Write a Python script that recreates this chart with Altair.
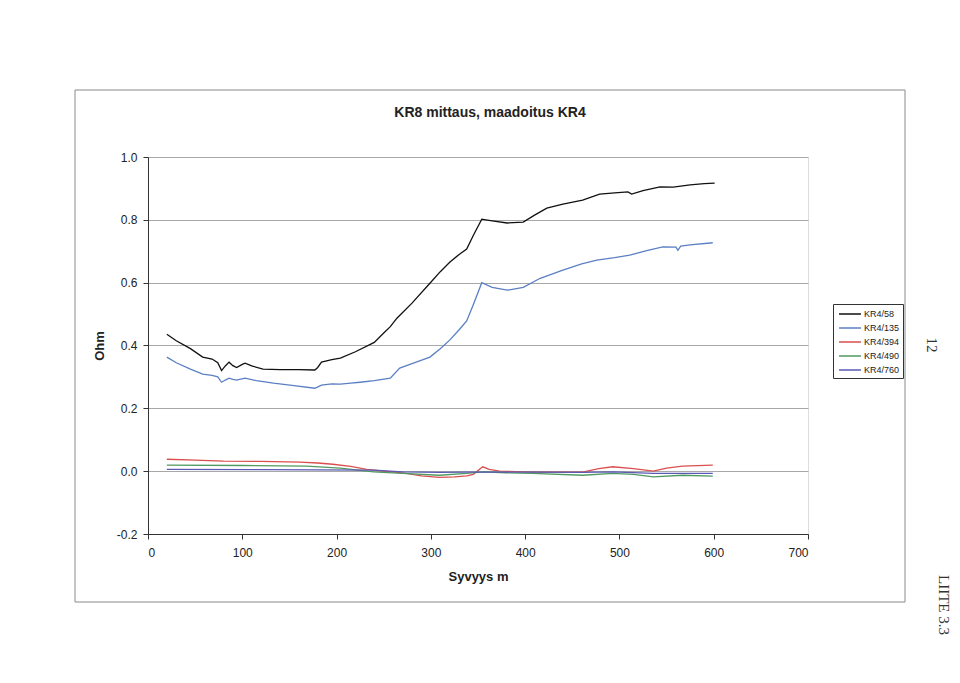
import altair as alt
import pandas as pd

# ---- data ----
series_names = ["KR4/58", "KR4/135", "KR4/394", "KR4/490", "KR4/760"]
series_colors = ["#111111", "#5b7fc4", "#d9504f", "#4f9a62", "#5a5ab4"]

kr58_x = [20, 30, 45, 58, 68, 74, 78, 82, 86, 90, 94, 100, 103, 110, 122, 140, 160, 177, 180, 184, 195, 204,
          220, 240, 250, 257, 264, 280, 299, 310, 320, 330, 338, 345, 354, 365, 381, 398, 410, 423, 440, 461,
          479, 495, 509, 513, 525, 543, 557, 575, 590, 601]
kr58_y = [0.436, 0.415, 0.390, 0.363, 0.357, 0.345, 0.320, 0.335, 0.347, 0.336, 0.330, 0.340, 0.344, 0.335,
          0.325, 0.323, 0.323, 0.322, 0.330, 0.347, 0.355, 0.360, 0.380, 0.410, 0.440, 0.460, 0.487, 0.535,
          0.598, 0.635, 0.665, 0.690, 0.707, 0.750, 0.802, 0.797, 0.790, 0.793, 0.815, 0.837, 0.850, 0.863,
          0.882, 0.886, 0.889, 0.882, 0.893, 0.905, 0.904, 0.911, 0.915, 0.917]

kr135_x = [20, 30, 45, 58, 68, 74, 78, 82, 86, 90, 94, 103, 115, 133, 155, 177, 184, 195, 204, 215, 225, 240,
           257, 267, 280, 299, 310, 320, 330, 338, 345, 354, 365, 381, 398, 416, 440, 460, 476, 495, 511, 530,
           546, 560, 562, 565, 575, 599]
kr135_y = [0.363, 0.345, 0.325, 0.309, 0.305, 0.300, 0.283, 0.290, 0.296, 0.292, 0.290, 0.296, 0.288, 0.280,
           0.272, 0.264, 0.274, 0.278, 0.277, 0.280, 0.283, 0.288, 0.296, 0.328, 0.342, 0.363, 0.390, 0.417,
           0.450, 0.478, 0.530, 0.600, 0.585, 0.576, 0.585, 0.614, 0.640, 0.660, 0.672, 0.680, 0.688, 0.703,
           0.714, 0.713, 0.703, 0.716, 0.720, 0.727]

kr394_x = [20, 50, 80, 120, 161, 180, 196, 215, 232, 250, 274, 290, 309, 325, 338, 345, 355, 362, 373, 408,
           440, 461, 478, 493, 515, 536, 550, 567, 599]
kr394_y = [0.038, 0.035, 0.032, 0.031, 0.029, 0.026, 0.022, 0.015, 0.006, 0.000, -0.007, -0.015, -0.020,
           -0.018, -0.015, -0.010, 0.014, 0.006, 0.000, -0.003, -0.003, -0.003, 0.008, 0.014, 0.008, 0.000,
           0.010, 0.016, 0.019]

kr490_x = [20, 100, 168, 204, 239, 270, 309, 338, 355, 380, 408, 461, 493, 515, 536, 567, 599]
kr490_y = [0.019, 0.018, 0.016, 0.010, -0.002, -0.007, -0.013, -0.007, -0.002, -0.005, -0.007, -0.013,
           -0.007, -0.010, -0.018, -0.013, -0.016]

kr760_x = [20, 120, 240, 270, 309, 338, 408, 461, 493, 536, 599]
kr760_y = [0.006, 0.005, 0.003, -0.002, -0.004, -0.003, -0.003, -0.004, -0.002, -0.007, -0.007]

x_ticks = [0, 100, 200, 300, 400, 500, 600, 700]
y_ticks = [-0.2, 0.0, 0.2, 0.4, 0.6, 0.8, 1.0]

title_text = "KR8 mittaus, maadoitus KR4"
x_title = "Syvyys m"
y_title = "Ohm"
page_notes = ["12", "LIITE   3.3"]

# ---- build table ----
rows = []
for name, xs, ys in zip(series_names,
                        [kr58_x, kr135_x, kr394_x, kr490_x, kr760_x],
                        [kr58_y, kr135_y, kr394_y, kr490_y, kr760_y]):
    for i, (xv, yv) in enumerate(zip(xs, ys)):
        rows.append({"series": name, "depth": xv, "ohm": yv, "order": i})
df = pd.DataFrame(rows)

FONT = "Liberation Sans"
W, H = 660, 377

lines = alt.Chart(df).mark_line(strokeWidth=1.3, clip=False).encode(
    x=alt.X("depth:Q", title=x_title,
            scale=alt.Scale(domain=[0, 700], nice=False, zero=False),
            axis=alt.Axis(values=x_ticks, grid=False, format="d", labelFontSize=12,
                          labelFont=FONT, labelColor="#222", titleFont=FONT, titleFontSize=13,
                          titleFontWeight="bold", titleColor="#222", titlePadding=12,
                          domainColor="#333", tickColor="#333", tickSize=5, labelPadding=8)),
    y=alt.Y("ohm:Q", title=y_title,
            scale=alt.Scale(domain=[-0.2, 1.0], nice=False, zero=False),
            axis=alt.Axis(values=y_ticks, grid=True, gridColor="#a8a8a8",
                          labelExpr="replace(format(datum.value, '.1f'), '\u2212', '-')",
                          gridWidth=1, labelFontSize=12, labelFont=FONT, labelColor="#222",
                          titleFont=FONT, titleFontSize=13, titleFontWeight="bold",
                          titleColor="#222", titlePadding=10, domainColor="#333",
                          tickColor="#333", tickSize=5, labelPadding=6)),
    color=alt.Color("series:N",
                    scale=alt.Scale(domain=series_names, range=series_colors),
                    legend=alt.Legend(title=None, orient="none", legendX=685, legendY=147,
                                      symbolType="M-1.83,0H1.83", symbolSize=144,
                                      symbolStrokeWidth=1.5, symbolOffset=7,
                                      labelFont=FONT, labelFontSize=9, labelColor="#222",
                                      labelOffset=7,
                                      strokeColor="#333", padding=3, rowPadding=2,
                                      fillColor="white")),
    order="order:Q",
)

one = pd.DataFrame({"k": [0]})
frame = alt.Chart(one).mark_rect(fill=None, stroke="#8a8a8a", strokeWidth=1, clip=False).encode(
    x=alt.value(-73), x2=alt.value(757), y=alt.value(-67), y2=alt.value(445)
)

title_mark = alt.Chart(pd.DataFrame({"t": [title_text]})).mark_text(
    font=FONT, fontSize=14, fontWeight="bold", color="#222", align="center", baseline="middle"
).encode(text="t:N", x=alt.value(342), y=alt.value(-44))

notes_df = pd.DataFrame({"note": page_notes})
note1 = alt.Chart(notes_df.iloc[[0]]).mark_text(
    font="Liberation Serif", fontSize=15, angle=90, color="#333", align="center", baseline="middle"
).encode(text="note:N", x=alt.value(784), y=alt.value(188))
note2 = alt.Chart(notes_df.iloc[[1]]).mark_text(
    font="Liberation Serif", fontSize=15, angle=90, color="#333", align="center", baseline="middle"
).encode(text="note:N", x=alt.value(796), y=alt.value(448))

chart = alt.layer(frame, lines, title_mark, note1, note2).properties(
    width=W, height=H,
    autosize=alt.AutoSizeParams(type="none"),
    padding={"left": 140, "top": 149, "right": 144, "bottom": 120},
).configure_view(stroke="#8a8a8a", strokeWidth=1).configure(background="white")

chart.save("out.html", embed_options={"renderer": "svg", "actions": False})
